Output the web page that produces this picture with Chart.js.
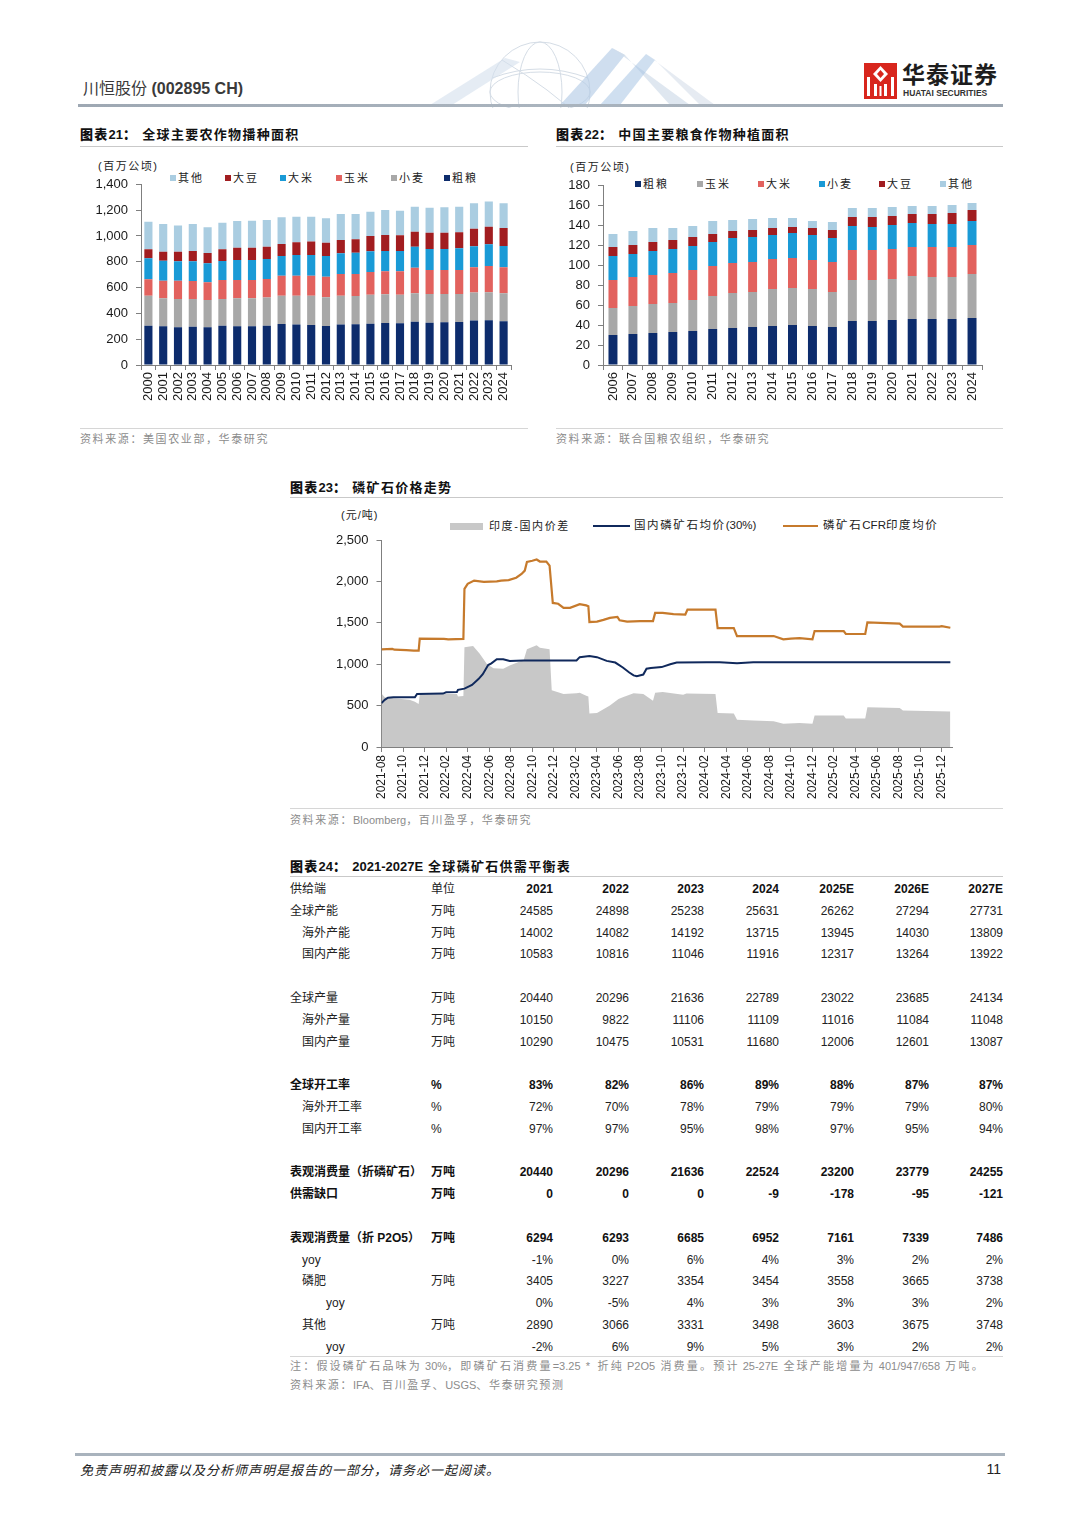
<!DOCTYPE html>
<html><head><meta charset="utf-8">
<script src="https://cdn.jsdelivr.net/npm/chart.js@4.4.1/dist/chart.umd.min.js"></script>
<style>
html,body{margin:0;padding:0;background:#fff;}
#page{position:relative;width:1080px;height:1527px;overflow:hidden;font-family:"Liberation Sans","Noto Sans CJK SC",sans-serif;color:#222;}
.t{position:absolute;white-space:nowrap;line-height:1;}
.rule{position:absolute;height:1px;background:#c9c9c9;}
.a{letter-spacing:0;}
canvas{position:absolute;}
</style></head>
<body><div id="page">
<svg style="position:absolute;left:400px;top:36px" width="320" height="72" viewBox="400 36 320 72">
 <g fill="none" stroke="#d5dde6" stroke-width="1">
  <circle cx="540" cy="92" r="50"/>
  <ellipse cx="540" cy="92" rx="22" ry="50"/>
  <ellipse cx="540" cy="92" rx="50" ry="20"/>
  <path d="M492 78 Q540 60 588 78"/>
  <path d="M502 60 Q552 90 582 120"/>
 </g>
 <polygon points="430,105 452,105 520,62 505,58" fill="#d3dfec" opacity="0.6"/>
 <polygon points="560,105 585,105 625,55 612,48" fill="#b5cde6" opacity="0.65"/>
 <polygon points="612,48 625,55 670,105 690,105" fill="#d2dde9" opacity="0.7"/>
 <polygon points="600,105 620,105 655,60 646,54" fill="#9fc0e2" opacity="0.5"/>
 <polygon points="646,54 655,60 700,105 715,105" fill="#dbe3ec" opacity="0.7"/>
</svg>
<svg style="position:absolute;left:864px;top:63px" width="33" height="36" viewBox="0 0 33 36">
 <rect x="0" y="0" width="33" height="36" fill="#d8261d"/>
 <polygon points="16.5,3 24,11 16.5,19 9,11" fill="#fff"/>
 <polygon points="16.5,7 20,11 16.5,15 13,11" fill="#d8261d"/>
 <rect x="3" y="14" width="3" height="19" fill="#fff"/>
 <rect x="27" y="14" width="3" height="19" fill="#fff"/>
 <rect x="10" y="21" width="3" height="12" fill="#fff"/>
 <rect x="20" y="21" width="3" height="12" fill="#fff"/>
 <rect x="15.5" y="23" width="2" height="10" fill="#fff"/>
</svg>
<div id="texts"></div>
<canvas id="c21" width="450" height="270" style="left:80px;top:150px"></canvas>
<canvas id="c22" width="450" height="270" style="left:555px;top:150px"></canvas>
<canvas id="c23" width="715" height="310" style="left:290px;top:500px"></canvas>
</div>
<script>
// ---------- Chart 21 data: global sown area (million ha) ----------
const years21 = ['2000','2001','2002','2003','2004','2005','2006','2007','2008','2009','2010','2011','2012','2013','2014','2015','2016','2017','2018','2019','2020','2021','2022','2023','2024'];
const coarse21 = [305,300,292,297,292,305,300,300,305,318,313,310,302,313,315,320,325,323,336,328,331,333,344,346,338];
const wheat21  = [232,217,219,214,212,206,217,217,217,219,224,227,222,224,220,225,223,222,219,222,219,217,217,217,217];
const corn21   = [127,136,142,140,137,148,142,142,144,155,155,155,160,168,170,176,178,181,199,186,186,186,196,204,202];
const rice21   = [163,155,150,152,147,147,155,155,155,153,160,160,161,160,165,160,157,157,163,163,163,168,163,168,165];
const soy21    = [69,70,75,80,80,90,95,95,96,93,99,104,103,104,104,119,124,122,116,126,126,124,136,137,140];
const other21  = [214,215,202,210,199,207,207,209,207,206,198,193,189,201,196,188,194,191,194,194,197,199,197,194,191];

// ---------- Chart 22 data: China planted area (million ha) ----------
const years22 = ['2006','2007','2008','2009','2010','2011','2012','2013','2014','2015','2016','2017','2018','2019','2020','2021','2022','2023','2024'];
const coarse22 = [30,31,32,33,34,36,37,38,39,40,39,38,44,44,45,46,46,46,47];
const corn22   = [27,28,29,29,31,33,35,35,37,37,37,35,41,41,41,43,42,42,44];
const rice22   = [28,29,29,30,30,30,30,30,30,30,29,30,30,30,30,29,30,30,29];
const wheat22  = [24,23,24,24,24,24,25,25,24,25,25,24,24,23,24,24,23,23,24];
const soy22    = [9,9,9,9,9,8,7,7,7,6,7,8,9,10,9,9,10,11,11];
const other22  = [13,14,14,12,11,13,11,11,10,9,7,8,9,9,9,8,8,8,7];

// ---------- Chart 23 data: phosphate rock prices (yuan/t); x = months since 2021-08 ----------
const monthTicks = ['2021-08','2021-10','2021-12','2022-02','2022-04','2022-06','2022-08','2022-10','2022-12','2023-02','2023-04','2023-06','2023-08','2023-10','2023-12','2024-02','2024-04','2024-06','2024-08','2024-10','2024-12','2025-02','2025-04','2025-06','2025-08','2025-10','2025-12'];
const cfrIndia = [[0,1180],[1.0,1185],[1.2,1175],[2.3,1170],[3.0,1165],[3.45,1165],[3.55,1310],[5.8,1305],[6.2,1300],[7.6,1305],[7.7,1910],[8.0,1970],[8.6,2010],[9.5,1995],[10.7,2000],[11.1,2010],[11.8,2015],[12.5,2045],[13.0,2090],[13.3,2130],[13.5,2235],[14.0,2250],[14.4,2265],[14.7,2240],[15.3,2240],[15.6,2190],[15.9,1740],[16.4,1730],[16.9,1680],[17.5,1680],[18.4,1725],[19.0,1710],[19.2,1700],[19.3,1510],[20.0,1515],[20.6,1535],[21.2,1560],[21.9,1570],[22.1,1530],[22.8,1515],[24.0,1520],[25.2,1520],[25.4,1620],[26.1,1620],[27.1,1605],[28.2,1600],[28.4,1660],[31.0,1660],[31.2,1435],[32.7,1435],[33.0,1340],[36.4,1340],[37.3,1300],[38.0,1310],[38.8,1315],[40.0,1300],[40.2,1400],[42.9,1400],[43.1,1365],[44.9,1365],[45.1,1505],[48.1,1490],[48.4,1455],[51.8,1455],[52.0,1460],[52.8,1440]];
const domestic30 = [[0,530],[0.3,570],[0.6,595],[1.1,600],[3.1,600],[3.3,640],[5.7,645],[6.0,660],[7.0,665],[7.1,690],[7.7,705],[8.4,750],[9.0,820],[9.4,880],[9.9,990],[10.2,1010],[10.7,1060],[11.3,1060],[11.9,1040],[13.2,1045],[18.1,1045],[18.4,1085],[19.3,1100],[20.0,1085],[20.9,1040],[21.7,1020],[22.4,960],[23.0,900],[23.4,865],[23.7,855],[24.3,875],[24.6,945],[25.0,955],[26.0,965],[26.8,1000],[27.4,1020],[30.2,1025],[31.4,1025],[33.0,1010],[34.5,1025],[52.8,1025]];
const spreadIndia = [[0,645],[0.3,600],[1.1,590],[2.6,570],[3.1,545],[3.45,520],[3.55,635],[6.0,640],[7.0,640],[7.1,610],[7.6,615],[7.7,1205],[8.5,1220],[9.1,1130],[9.8,1000],[10.4,950],[11.3,945],[11.9,985],[13.2,1050],[13.5,1180],[14.4,1230],[14.7,1200],[15.6,1180],[15.8,685],[16.9,640],[18.1,650],[18.4,655],[19.0,620],[19.2,610],[19.3,405],[20.0,410],[21.2,500],[22.0,580],[22.4,600],[23.4,650],[24.3,640],[24.9,585],[25.2,560],[25.4,655],[26.1,665],[28.0,630],[28.3,645],[31.0,640],[31.2,410],[32.7,405],[33.0,330],[34.5,320],[36.4,310],[37.3,280],[38.8,290],[40.0,280],[40.2,380],[42.9,380],[43.1,345],[44.9,345],[45.1,480],[48.1,470],[48.4,440],[52.8,430]];

// ---------- Table 24 data ----------
const tableCols = ['2021','2022','2023','2024','2025E','2026E','2027E'];
const rowLabels = ['全球产能','海外产能','国内产能',null,'全球产量','海外产量','国内产量',null,'全球开工率','海外开工率','国内开工率',null,'表观消费量（折磷矿石）','供需缺口',null,'表观消费量（折 P2O5）','yoy','磷肥','yoy','其他','yoy'];
const rowUnits  = ['万吨','万吨','万吨',null,'万吨','万吨','万吨',null,'%','%','%',null,'万吨','万吨',null,'万吨','','万吨','','万吨',''];
const rowIndent = [0,1,1,0,0,1,1,0,0,1,1,0,0,0,0,0,1,1,2,1,2];
const rowBold   = [0,0,0,0,0,0,0,0,1,0,0,0,1,1,0,1,0,0,0,0,0];
const rowValues = [
 ['24585','24898','25238','25631','26262','27294','27731'],
 ['14002','14082','14192','13715','13945','14030','13809'],
 ['10583','10816','11046','11916','12317','13264','13922'],
 null,
 ['20440','20296','21636','22789','23022','23685','24134'],
 ['10150','9822','11106','11109','11016','11084','11048'],
 ['10290','10475','10531','11680','12006','12601','13087'],
 null,
 ['83%','82%','86%','89%','88%','87%','87%'],
 ['72%','70%','78%','79%','79%','79%','80%'],
 ['97%','97%','95%','98%','97%','95%','94%'],
 null,
 ['20440','20296','21636','22524','23200','23779','24255'],
 ['0','0','0','-9','-178','-95','-121'],
 null,
 ['6294','6293','6685','6952','7161','7339','7486'],
 ['-1%','0%','6%','4%','3%','2%','2%'],
 ['3405','3227','3354','3454','3558','3665','3738'],
 ['0%','-5%','4%','3%','3%','3%','2%'],
 ['2890','3066','3331','3498','3603','3675','3748'],
 ['-2%','6%','9%','5%','3%','2%','2%']
];

// ---------- static text helpers ----------
const host = document.getElementById('texts');
// keep Latin/digit runs unspaced, letter-space only the CJK glyphs
function cjk(s){ return s.replace(/([A-Za-z0-9%.\-\/\*=(),+ ]*[A-Za-z0-9%][A-Za-z0-9%.\-\/\*=(),+]*)/g, '<span class="a">$1</span>'); }
function T(html, x, y, css, right){
  const d = document.createElement('div');
  d.className = 't';
  d.innerHTML = html;
  d.style.cssText = 'left:'+x+'px;top:'+y+'px;transform:translate('+(right?'-100%':'0')+',-50%);'+(css||'');
  host.appendChild(d); return d;
}
function R(x, y, w, h, color){
  const d = document.createElement('div');
  d.className = 'rule';
  d.style.cssText = 'left:'+x+'px;top:'+y+'px;width:'+w+'px;height:'+(h||1)+'px;background:'+(color||'#c9c9c9')+';';
  host.appendChild(d);
}
function SW(x, y, w, h, color){
  const d = document.createElement('div');
  d.style.cssText = 'position:absolute;left:'+x+'px;top:'+(y-h/2)+'px;width:'+w+'px;height:'+h+'px;background:'+color+';';
  host.appendChild(d);
}
const SRC = 'font-size:11px;color:#8c8c8c;letter-spacing:1.6px;';
const TTL = 'font-size:13px;font-weight:bold;color:#111;letter-spacing:1.3px;';
const LEG = 'font-size:11px;color:#222;letter-spacing:1.6px;';

// header
T('川恒股份 <b>(002895 CH)</b>', 83, 89, 'font-size:16px;color:#3a3a3a;');
T('华泰证券', 902, 75, 'font-size:23px;font-weight:bold;color:#1d1d1d;letter-spacing:1px;');
T('HUATAI SECURITIES', 903, 93, 'font-size:8.5px;font-weight:bold;color:#333;');
R(78, 104, 925, 3, 'linear-gradient(90deg,#9ea8b3,#aab4be 50%,#9ea8b3)');

// chart titles
const C = {navy:'#0d2c6c', gray:'#a8a8a8', red:'#e2625e', blue:'#1a9ad6', dred:'#a11d20', light:'#aacde1'};
T('<b>图表<span class="a">21</span>：</b>&nbsp;全球主要农作物播种面积', 80, 134, TTL);
T('<b>图表<span class="a">22</span>：</b>&nbsp;中国主要粮食作物种植面积', 556, 134, TTL);
R(80, 146, 448); R(556, 146, 447);
T('(百万公顷)', 98, 166, 'font-size:11px;color:#222;letter-spacing:1.5px;');
T('(百万公顷)', 570, 167, 'font-size:11px;color:#222;letter-spacing:1.5px;');
// legends
const leg21 = [['其他',C.light,170],['大豆',C.dred,225],['大米',C.blue,280],['玉米',C.red,336],['小麦',C.gray,391],['粗粮',C.navy,444]];
leg21.forEach(l=>{SW(l[2],178,6,6,l[1]); T(l[0], l[2]+8, 178, 'font-size:11px;color:#222;letter-spacing:2px;');});
const leg22 = [['粗粮',C.navy,635],['玉米',C.gray,697],['大米',C.red,758],['小麦',C.blue,819],['大豆',C.dred,879],['其他',C.light,940]];
leg22.forEach(l=>{SW(l[2],184,6,6,l[1]); T(l[0], l[2]+8, 184, 'font-size:11px;color:#222;letter-spacing:2px;');});
R(80, 428, 448, 1, '#d6d6d6'); R(556, 428, 447, 1, '#d6d6d6');
T('资料来源：美国农业部，华泰研究', 80, 439, SRC);
T('资料来源：联合国粮农组织，华泰研究', 556, 439, SRC);

// chart 23 texts
T('<b>图表<span class="a">23</span>：</b>&nbsp;磷矿石价格走势', 290, 487, TTL);
R(290, 497, 713);
T('(元/吨)', 341, 515, 'font-size:11px;color:#222;letter-spacing:1px;');
SW(450, 526, 33, 7, '#c8c8c8'); T(cjk('印度-国内价差'), 489, 526, LEG);
SW(593, 526, 37, 2, '#10295c'); T(cjk('国内磷矿石均价(30%)'), 634, 526, LEG + 'font-size:11.5px;');
SW(783, 526, 35, 2, '#c67a2c'); T(cjk('磷矿石CFR印度均价'), 823, 526, LEG + 'font-size:11.5px;');
R(290, 808, 713, 1, '#d6d6d6');
T(cjk('资料来源：Bloomberg，百川盈孚，华泰研究'), 290, 820, SRC);

// table 24
T('<b>图表<span class="a">24</span>：</b>&nbsp;<b class="a">2021-2027E</b> 全球磷矿石供需平衡表', 290, 866, TTL);
R(290, 876, 713);
const colRight = [553,629,704,779,854,929,1003];
const rowY0 = 889, rowH = 21.8;
T('供给端', 290, rowY0, 'font-size:12px;color:#222;');
T('单位', 431, rowY0, 'font-size:12px;color:#222;');
tableCols.forEach((c,j)=>T(c, colRight[j], rowY0, 'font-size:12px;font-weight:bold;color:#111;', true));
const indentX = [290, 302, 326];
rowLabels.forEach((lab,i)=>{
  if(lab===null) return;
  const y = rowY0 + (i+1)*rowH;
  const fw = rowBold[i] ? 'font-weight:bold;color:#111;' : 'color:#222;';
  T(lab, indentX[rowIndent[i]], y, 'font-size:12px;'+fw);
  if(rowUnits[i]) T(rowUnits[i], 431, y, 'font-size:12px;'+fw);
  rowValues[i].forEach((v,j)=>T(v, colRight[j], y, 'font-size:12px;'+fw, true));
});
R(290, 1356, 713, 1, '#d6d6d6');
T(cjk('注：假设磷矿石品味为 30%，即磷矿石消费量=3.25 * 折纯 P2O5 消费量。预计 25-27E 全球产能增量为 401/947/658 万吨。'), 290, 1366, SRC + 'letter-spacing:2.2px;');
T(cjk('资料来源：IFA、百川盈孚、USGS、华泰研究预测'), 290, 1385, SRC);

// footer
R(75, 1453, 930, 3, '#a9b3bd');
T('免责声明和披露以及分析师声明是报告的一部分，请务必一起阅读。', 80, 1470, 'font-size:13px;font-style:italic;color:#222;letter-spacing:1px;');
T('11', 1001, 1469, 'font-size:14px;color:#222;', true);

// ---------- Chart.js ----------
Chart.defaults.font.family = '"Liberation Sans","Noto Sans CJK SC",sans-serif';
Chart.defaults.color = '#1a1a1a';
const AX = '#7f7f7f';
function yAxis(max, step, w, size){
  return {stacked:true, min:0, max:max,
    ticks:{stepSize:step, font:{size:size}, color:'#1a1a1a', padding:8},
    grid:{drawOnChartArea:false, tickLength:5, color:AX},
    border:{display:true, color:AX},
    afterFit(s){ s.width = w; }};
}
function xCat(h){
  return {stacked:true,
    ticks:{minRotation:90, maxRotation:90, autoSkip:false, font:{size:13}, color:'#1a1a1a', padding:2},
    grid:{drawOnChartArea:false, tickLength:5, offset:true, color:AX},
    border:{display:true, color:AX},
    afterFit(s){ s.height = h; }};
}
function bars(label, data, color, bp){
  return {label, data, backgroundColor:color, borderWidth:0, barPercentage:bp, categoryPercentage:1};
}
const commonPlugins = {legend:{display:false}, tooltip:{enabled:false}, title:{display:false}};

new Chart(document.getElementById('c21'), {
  type:'bar',
  data:{labels:years21, datasets:[
    bars('粗粮', coarse21, C.navy, 0.55),
    bars('小麦', wheat21, C.gray, 0.55),
    bars('玉米', corn21, C.red, 0.55),
    bars('大米', rice21, C.blue, 0.55),
    bars('大豆', soy21, C.dred, 0.55),
    bars('其他', other21, C.light, 0.55)]},
  options:{responsive:false, animation:false, devicePixelRatio:1,
    layout:{padding:{top:34.3, right:19, left:0, bottom:0}},
    plugins:commonPlugins,
    scales:{x:xCat(55), y:yAxis(1400, 200, 61, 13)}}
});

new Chart(document.getElementById('c22'), {
  type:'bar',
  data:{labels:years22, datasets:[
    bars('粗粮', coarse22, C.navy, 0.45),
    bars('玉米', corn22, C.gray, 0.45),
    bars('大米', rice22, C.red, 0.45),
    bars('小麦', wheat22, C.blue, 0.45),
    bars('大豆', soy22, C.dred, 0.45),
    bars('其他', other22, C.light, 0.45)]},
  options:{responsive:false, animation:false, devicePixelRatio:1,
    layout:{padding:{top:35, right:23, left:0, bottom:0}},
    plugins:commonPlugins,
    scales:{x:xCat(55), y:yAxis(180, 20, 48, 13)}}
});

new Chart(document.getElementById('c23'), {
  type:'line',
  data:{datasets:[
    {label:'磷矿石CFR印度均价', data:cfrIndia, borderColor:'#c67a2c', borderWidth:2.2, pointRadius:0, tension:0, fill:false, order:1},
    {label:'国内磷矿石均价(30%)', data:domestic30, borderColor:'#10295c', borderWidth:2, pointRadius:0, tension:0, fill:false, order:2},
    {label:'印度-国内价差', data:spreadIndia, borderColor:'rgba(0,0,0,0)', borderWidth:0, backgroundColor:'#c8c8c8', pointRadius:0, tension:0, fill:'origin', order:3}
  ]},
  options:{responsive:false, animation:false, devicePixelRatio:1,
    layout:{padding:{top:40, right:52.5, left:0, bottom:0}},
    plugins:Object.assign({filler:{propagate:false}}, commonPlugins),
    scales:{
      x:{type:'linear', min:0, max:53,
        afterBuildTicks(s){ s.ticks = monthTicks.map((lab, i) => ({value: i * 2})); },
        ticks:{stepSize:2, autoSkip:false, minRotation:90, maxRotation:90, font:{size:12}, color:'#1a1a1a', padding:3,
          callback:(v)=>monthTicks[Math.round(v/2)]},
        grid:{drawOnChartArea:false, tickLength:5, color:AX},
        border:{display:true, color:AX},
        afterFit(s){ s.height = 63; }},
      y:{min:0, max:2500,
        ticks:{stepSize:500, font:{size:13}, color:'#1a1a1a', padding:8},
        grid:{drawOnChartArea:false, tickLength:5, color:AX},
        border:{display:true, color:AX},
        afterFit(s){ s.width = 91.5; }}
    }}
});
</script>
</body></html>
